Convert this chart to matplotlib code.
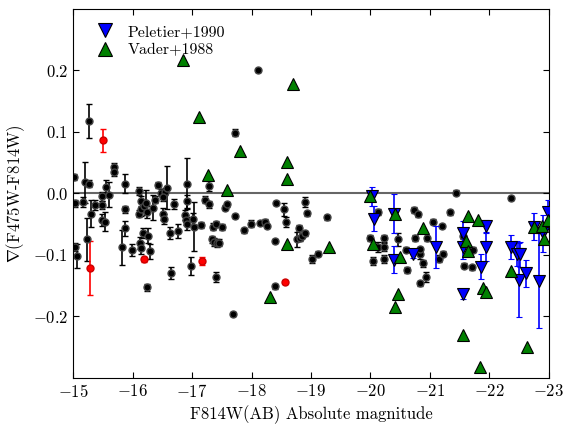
import matplotlib
matplotlib.use('Agg')
import matplotlib.pyplot as plt
from matplotlib.lines import Line2D
import numpy as np

plt.rcParams['font.family'] = 'serif'
plt.rcParams['font.serif'] = ['cmr10', 'DejaVu Serif']
plt.rcParams['mathtext.fontset'] = 'cm'
plt.rcParams['axes.formatter.use_mathtext'] = True

# black points: this work
blk_x = [-15.02, -15.03, -15.03, -15.06, -15.20, -15.27, -15.17, -15.30, -15.23, -15.26,
         -15.37, -15.49, -15.49, -15.49, -15.53, -15.56, -15.61, -15.69, -15.69, -15.87,
         -15.87, -15.87, -15.82, -15.99, -16.11, -16.14, -16.10, -16.14, -16.19, -16.23,
         -16.24, -16.17, -16.26, -16.13, -16.14, -16.29, -16.25, -16.34, -16.38, -16.42,
         -16.47, -16.54, -16.51, -16.53, -16.57, -16.51, -16.63, -16.64, -16.70, -16.77,
         -16.91, -16.92, -16.88, -16.89, -16.92, -17.01, -17.03, -16.98, -17.15, -17.29,
         -17.22, -17.29, -17.35, -17.40, -17.50, -17.33, -17.37, -17.42, -17.46, -17.40,
         -17.68, -17.55, -17.59, -17.73, -17.88, -17.99, -18.14, -18.22, -18.26, -18.41,
         -18.55, -18.58, -18.39, -18.39, -18.79, -18.76, -18.81, -18.85, -18.90, -18.90,
         -18.94, -19.01, -19.11, -19.27, -18.11, -17.73,
         -20.00, -20.13, -20.12, -20.22, -20.22, -20.23, -20.05, -20.47, -20.60, -20.61,
         -20.75, -20.73, -20.80, -20.83, -20.94, -20.88, -20.95, -20.84, -20.84, -21.05,
         -21.21, -21.33, -21.16, -21.22, -21.44, -21.58, -21.70, -21.73, -21.56, -22.37]
blk_y = [0.027, -0.016, -0.087, -0.102, 0.018, 0.016, -0.014, -0.033, -0.075, 0.118,
         -0.019, -0.005, -0.019, -0.043, -0.046, 0.010, -0.002, 0.043, 0.034, 0.016,
         -0.026, -0.057, -0.088, -0.092, 0.004, -0.012, -0.033, -0.026, -0.021, -0.015,
         -0.030, -0.065, -0.069, -0.081, -0.089, -0.094, -0.153, -0.023, -0.010, 0.013,
         0.001, 0.003, -0.033, -0.042, 0.009, -0.006, -0.064, -0.130, -0.017, -0.061,
         0.016, -0.013, -0.035, -0.043, -0.049, -0.042, -0.054, -0.118, -0.052, 0.012,
         -0.010, -0.018, -0.054, -0.050, -0.054, -0.075, -0.079, -0.081, -0.080, -0.136,
         -0.196, -0.023, -0.018, -0.037, -0.060, -0.049, -0.048, -0.046, -0.053, -0.016,
         -0.026, -0.046, -0.078, -0.151, -0.057, -0.075, -0.073, -0.069, -0.065, -0.014,
         -0.032, -0.107, -0.098, -0.039, 0.200, 0.099,
         -0.072, -0.030, -0.087, -0.073, -0.087, -0.107, -0.110, -0.075, -0.092, -0.124,
         -0.072, -0.027, -0.034, -0.146, -0.136, -0.114, -0.073, -0.099, -0.091, -0.046,
         -0.053, -0.031, -0.106, -0.098, 0.001, -0.118, -0.120, -0.092, -0.070, -0.008]
blk_err = [0.005, 0.006, 0.006, 0.020, 0.033, 0.006, 0.008, 0.022, 0.035, 0.028,
           0.008, 0.008, 0.006, 0.010, 0.015, 0.012, 0.020, 0.007, 0.006, 0.016,
           0.006, 0.012, 0.029, 0.010, 0.006, 0.008, 0.006, 0.010, 0.010, 0.020,
           0.010, 0.008, 0.012, 0.010, 0.010, 0.012, 0.006, 0.020, 0.006, 0.005,
           0.006, 0.006, 0.010, 0.008, 0.035, 0.006, 0.010, 0.010, 0.008, 0.012,
           0.042, 0.010, 0.008, 0.008, 0.010, 0.010, 0.040, 0.015, 0.005, 0.008,
           0.005, 0.005, 0.006, 0.005, 0.005, 0.006, 0.006, 0.006, 0.005, 0.008,
           0.003, 0.004, 0.004, 0.003, 0.004, 0.005, 0.003, 0.004, 0.004, 0.003,
           0.010, 0.008, 0.003, 0.004, 0.005, 0.012, 0.004, 0.004, 0.004, 0.008,
           0.004, 0.006, 0.004, 0.004, 0.003, 0.005,
           0.005, 0.005, 0.008, 0.006, 0.006, 0.006, 0.006, 0.010, 0.004, 0.005,
           0.005, 0.005, 0.004, 0.004, 0.008, 0.005, 0.004, 0.008, 0.004, 0.004,
           0.004, 0.004, 0.005, 0.004, 0.004, 0.004, 0.004, 0.004, 0.004, 0.003]

# red points
red_x = [-15.51, -15.29, -16.20, -17.17, -18.56]
red_y = [0.086, -0.122, -0.107, -0.110, -0.144]
red_err = [0.019, 0.044, 0.004, 0.006, 0.003]

# Peletier+1990
pel_x = [-20.02, -20.06, -20.40, -20.39, -20.72, -21.11, -21.56, -21.56, -21.56, -21.94,
         -21.94, -21.86, -22.36, -22.47, -22.52, -22.50, -22.61, -22.75, -22.83, -22.90,
         -22.99]
pel_y = [-0.005, -0.041, -0.033, -0.108, -0.099, -0.087, -0.065, -0.087, -0.164, -0.053,
         -0.087, -0.119, -0.087, -0.098, -0.099, -0.141, -0.130, -0.054, -0.142, -0.065,
         -0.030]
pel_err = [0.016, 0.020, 0.032, 0.022, 0.006, 0.034, 0.020, 0.020, 0.007, 0.010,
           0.023, 0.020, 0.020, 0.020, 0.020, 0.060, 0.022, 0.022, 0.077, 0.030,
           0.020]

# Vader+1988
vad_x = [-16.84, -18.70, -17.11, -17.80, -18.59, -18.59, -17.27, -17.58, -18.31, -18.60,
         -19.31, -19.99, -20.05, -20.41, -20.50, -20.47, -20.42, -20.88, -21.64, -21.81,
         -21.60, -21.64, -21.90, -21.95, -21.56, -21.84, -22.36, -22.64, -22.75, -22.89,
         -22.92, -22.99]
vad_y = [0.217, 0.178, 0.124, 0.069, 0.051, 0.024, 0.030, 0.005, -0.168, -0.083,
         -0.087, -0.005, -0.083, -0.033, -0.104, -0.164, -0.185, -0.057, -0.037, -0.043,
         -0.077, -0.093, -0.154, -0.160, -0.230, -0.282, -0.127, -0.250, -0.054, -0.053,
         -0.075, -0.043]

fig = plt.figure(figsize=(5.67, 4.25), dpi=100)
ax = fig.add_axes([0.129, 0.111, 0.839, 0.868])

ax.axhline(0, color='#666666', lw=1.5, zorder=1)

ax.errorbar(blk_x, blk_y, yerr=blk_err, fmt='o', color='k', ms=5, mec='#444444',
            ecolor='k', elinewidth=1.2, capsize=2.5, zorder=2)
ax.errorbar(red_x, red_y, yerr=red_err, fmt='o', color='red', ms=5, mec='#cc0000',
            ecolor='red', elinewidth=1.2, capsize=2.5, zorder=2)
ax.errorbar(pel_x, pel_y, yerr=pel_err, fmt='v', color='blue', ms=9, mec='k', mew=0.8,
            ecolor='blue', elinewidth=1.2, capsize=2.5, zorder=3)
ax.plot(vad_x, vad_y, '^', color='green', ms=9, mec='k', mew=0.8, ls='none', zorder=4)

ax.set_xlim(-15, -23)
ax.set_ylim(-0.3, 0.3)
ax.set_xticks(np.arange(-15, -24, -1))
ax.set_yticks([-0.2, -0.1, 0.0, 0.1, 0.2])
ax.tick_params(direction='in', top=True, right=True, labelsize=12, length=4)

ax.set_xlabel('F814W(AB) Absolute magnitude', fontsize=12)
ax.set_ylabel(r'$\nabla$(F475W-F814W)', fontsize=12)

handles = [Line2D([], [], marker='v', color='blue', mec='k', mew=0.8, ms=10, ls='none'),
           Line2D([], [], marker='^', color='green', mec='k', mew=0.8, ms=10, ls='none')]
ax.legend(handles, ['Peletier+1990', 'Vader+1988'], loc='upper left', frameon=False,
          numpoints=1, fontsize=11.5, handletextpad=0.4, borderaxespad=0.6,
          labelspacing=0.25)

fig.savefig('out.png', dpi=100)
